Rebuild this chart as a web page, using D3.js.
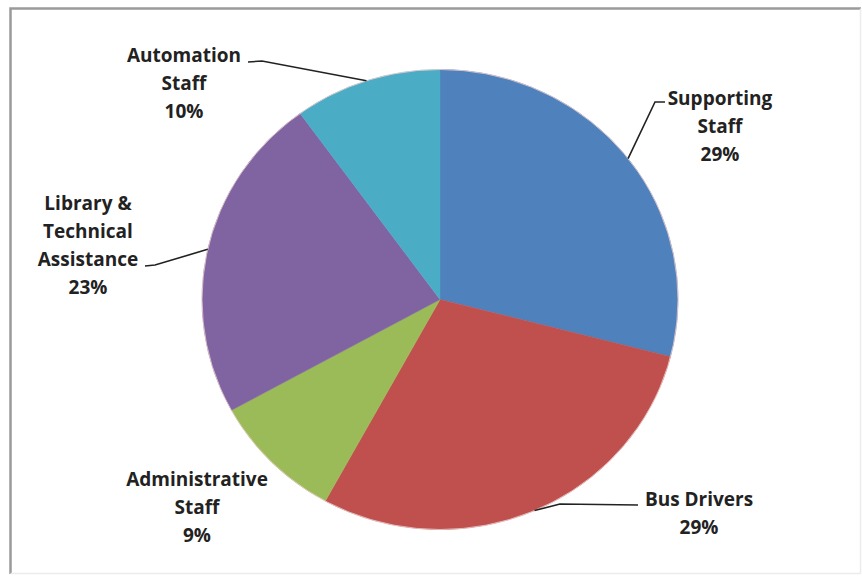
<!DOCTYPE html>
<html>
<head>
<meta charset="utf-8">
<script src="https://cdn.jsdelivr.net/npm/d3@7"></script>
<style>
  body { margin: 0; background: #fff; }
  text { font-family: "Open Sans", sans-serif; font-weight: bold; font-size: 19px; fill: #222; font-variant-ligatures: none; }
</style>
</head>
<body>
<svg id="chart"></svg>
<script>
const width = 862;
const height = 580;

// data, clockwise from 12 o'clock
const categories = ["Supporting Staff", "Bus Drivers", "Administrative Staff", "Library & Technical Assistance", "Automation Staff"];
const values = [29, 29, 9, 23, 10];
const labelLines = [
  ["Supporting", "Staff", "29%"],
  ["Bus Drivers", "29%"],
  ["Administrative", "Staff", "9%"],
  ["Library &", "Technical", "Assistance", "23%"],
  ["Automation", "Staff", "10%"]
];
const colors = ["#4F81BD", "#C0504D", "#9BBB59", "#8064A2", "#4BACC6"];

// label layout: centre x, first baseline y, leader bend + end (null = no leader)
const labelLayout = [
  { x: 720, y: 105, leader: [[655, 102], [665, 102]] },
  { x: 699, y: 506, leader: [[560, 504], [638, 505]] },
  { x: 197, y: 486, leader: null },
  { x: 88, y: 210, leader: [[155, 265], [145, 266]] },
  { x: 184, y: 62, leader: [[262, 61], [248, 62]] }
];

const cx = 440, cy = 299.5, r = 230, sx = 238 / 230;

const svg = d3.select("#chart")
  .attr("width", width)
  .attr("height", height);

svg.append("rect").attr("width", width).attr("height", height).attr("fill", "#fff");

// chart frame
svg.append("path")
  .attr("d", `M10.5,${height - 6} V8.5 H${width - 1}`)
  .attr("fill", "none").attr("stroke", "#9a9a9a").attr("stroke-width", 2.5);
svg.append("path")
  .attr("d", `M${width - 1.5},8.5 V${height - 6.5} H10.5`)
  .attr("fill", "none").attr("stroke", "#ececec").attr("stroke-width", 1.5);

const pie = d3.pie().sort(null).value(d => d);
const arcs = pie(values);
const arc = d3.arc().innerRadius(0).outerRadius(r);

const g = svg.append("g")
  .attr("transform", `translate(${cx},${cy}) scale(${sx},1)`);

g.selectAll("path")
  .data(arcs)
  .join("path")
  .attr("d", arc)
  .attr("fill", (d, i) => colors[i])
  .attr("stroke", (d, i) => colors[i])
  .attr("stroke-width", 0.5);

// faint rim
g.append("circle")
  .attr("r", r)
  .attr("fill", "none")
  .attr("stroke", "#e9c9c9")
  .attr("stroke-width", 0.8);

// leader lines from slice midpoint on the rim
const edgePoint = d => {
  const a = (d.startAngle + d.endAngle) / 2;
  return [cx + Math.sin(a) * r * sx, cy - Math.cos(a) * r];
};

arcs.forEach((d, i) => {
  const lay = labelLayout[i];
  if (lay.leader) {
    svg.append("path")
      .attr("d", d3.line()([edgePoint(d), ...lay.leader]))
      .attr("fill", "none")
      .attr("stroke", "#222")
      .attr("stroke-width", 1.6);
  }
  const t = svg.append("text")
    .attr("text-anchor", "middle")
    .attr("x", lay.x)
    .attr("y", lay.y);
  labelLines[i].forEach((line, j) => {
    t.append("tspan").attr("x", lay.x).attr("dy", j === 0 ? 0 : 28).text(line);
  });
});
</script>
</body>
</html>
